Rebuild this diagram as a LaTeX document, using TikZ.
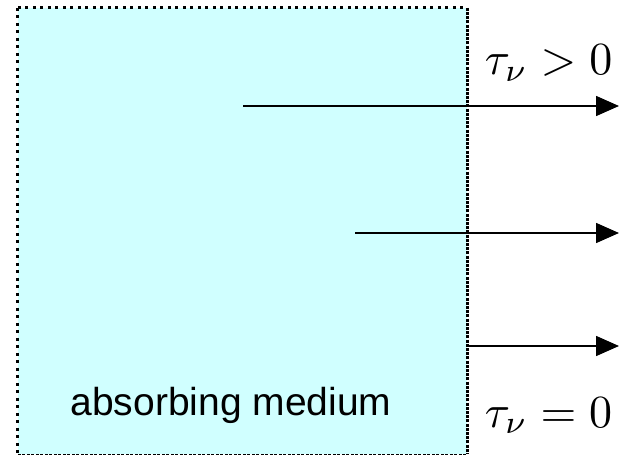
\documentclass[tikz,border=0pt]{standalone}
\usepackage{amsmath}
\usepackage{fontspec}
\newfontfamily\arialfont{Liberation Sans}
\usetikzlibrary{arrows.meta,positioning}
\definecolor{mediumcyan}{RGB}{208,255,255}
\tikzset{
  mediumbox/.style={
    fill=mediumcyan,
    draw=none,
    minimum width=449pt,
    minimum height=446pt,
    inner sep=0pt
  },
  dotedge/.style={
    line width=3pt,
    dash pattern=on 3pt off 4.5pt
  },
  denseedge/.style={
    line width=3pt,
    dash pattern=on 3pt off 1.2pt
  },
  baseedge/.style={
    line width=1.2pt,
    dash pattern=on 3pt off 1.5pt
  },
  rayarrow/.style={
    -{Triangle[length=23pt,width=20pt]},
    line width=1.6pt
  },
  taulabel/.style={
    anchor=base west,
    inner sep=0pt,
    scale=4.6
  },
  mediumlabel/.style={
    anchor=base,
    inner sep=0pt,
    font=\fontsize{39}{44}\selectfont\arialfont
  }
}

\begin{document}
\begin{tikzpicture}[x=1pt,y=1pt]
  \useasboundingbox (0,0) rectangle (620,456);
  % the medium
  \node[mediumbox] (medium) at (242.5,225) {};
  \draw[dotedge] (medium.north west) -- (medium.north east);
  \draw[dotedge] (medium.north west) -- (medium.south west);
  \draw[denseedge] (medium.north east) -- (medium.south east);
  \draw[baseedge] (medium.south west) -- (medium.south east);
  \node[mediumlabel] (name) at (231,41) {absorbing medium};
  % rays leaving the medium
  \coordinate (r1a) at (243,350);
  \coordinate (r1b) at (619,350);
  \coordinate (r2a) at (355,223);
  \coordinate (r2b) at (619,223);
  \coordinate (r3a) at (467,110);
  \coordinate (r3b) at (619,110);
  \draw[rayarrow] (r1a) -- (r1b);
  \draw[rayarrow] (r2a) -- (r2b);
  \draw[rayarrow] (r3a) -- (r3b);
  % optical depth
  \node[taulabel] (taupos) at (484,381) {$\tau_\nu > 0$};
  \node[taulabel] (tauzero) at (484,29) {$\tau_\nu = 0$};
\end{tikzpicture}
\end{document}
